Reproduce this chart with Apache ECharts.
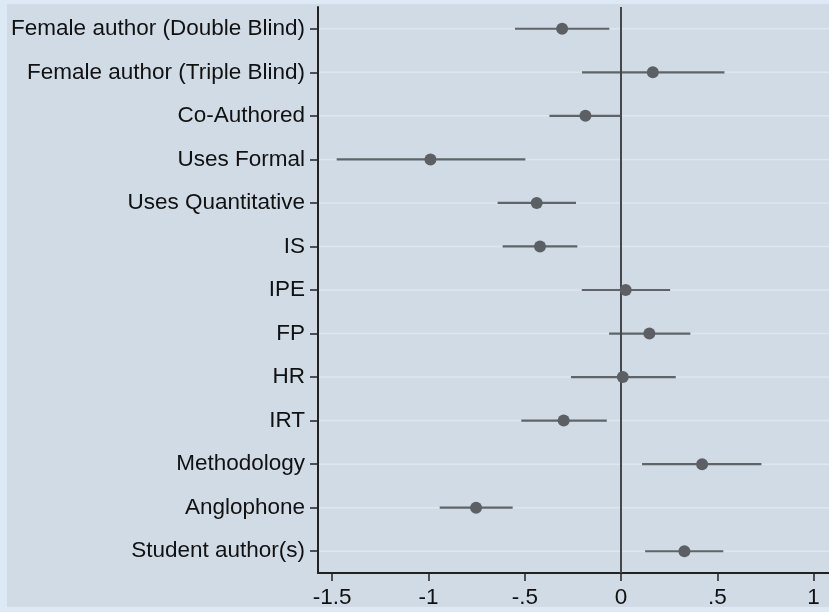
<!DOCTYPE html>
<html><head><meta charset="utf-8">
<script src="https://cdn.jsdelivr.net/npm/echarts@6/dist/echarts.min.js"></script>
<style>html,body{margin:0;padding:0;background:#dde9f5;}#c{width:829px;height:612px;}</style>
</head><body><div id="c"></div>
<script>
const categories = ["Female author (Double Blind)","Female author (Triple Blind)","Co-Authored","Uses Formal","Uses Quantitative","IS","IPE","FP","HR","IRT","Methodology","Anglophone","Student author(s)"];
const estimates = [-0.306, 0.165, -0.185, -0.990, -0.438, -0.421, 0.024, 0.147, 0.009, -0.298, 0.421, -0.753, 0.329];
const lower = [-0.551, -0.203, -0.372, -1.477, -0.641, -0.615, -0.204, -0.062, -0.260, -0.518, 0.109, -0.942, 0.125];
const upper = [-0.061, 0.537, 0.000, -0.497, -0.234, -0.227, 0.255, 0.360, 0.284, -0.074, 0.729, -0.563, 0.531];
const tickValues = [-1.5, -1, -0.5, 0, 0.5, 1];
const tickLabels = ["-1.5", "-1", "-.5", "0", ".5", "1"];

const X_MIN = -1.574, X_MAX = 1.08;
const chart = echarts.init(document.getElementById('c'), null, {renderer: 'canvas'});
const font = '"Liberation Sans", Arial, Helvetica, sans-serif';
chart.setOption({
  backgroundColor: '#dde9f5',
  animation: false,
  graphic: [{type: 'rect', z: -10, silent: true, shape: {x: 7, y: 4, width: 830, height: 603}, style: {fill: '#d0dbe6'}}],
  grid: {left: 318, right: 0, top: 7, bottom: 39, containLabel: false},
  xAxis: {
    type: 'value', min: X_MIN, max: X_MAX,
    axisLine: {show: true, onZero: false, lineStyle: {color: '#222', width: 2}},
    axisTick: {show: true, length: 8, customValues: tickValues, lineStyle: {color: '#222', width: 1.5}},
    axisLabel: {customValues: tickValues, margin: 13, fontSize: 22.5, color: '#111', fontFamily: font,
      formatter: v => { const i = tickValues.findIndex(t => Math.abs(t - v) < 1e-9); return i >= 0 ? tickLabels[i] : ''; }},
    splitLine: {show: false}
  },
  yAxis: {
    type: 'category', data: categories, inverse: true, boundaryGap: true,
    axisLine: {show: true, onZero: false, lineStyle: {color: '#222', width: 2}},
    axisTick: {show: true, alignWithLabel: true, length: 8, lineStyle: {color: '#222', width: 1.5}},
    axisLabel: {fontSize: 22.5, color: '#111', fontFamily: font, margin: 13},
    splitLine: {show: false}
  },
  series: [
    {
      type: 'custom', z: 1,
      dimensions: ['lo', 'hi', 'cat'],
      data: categories.map((c, i) => [X_MIN, X_MAX, i]),
      encode: {x: ['lo', 'hi'], y: 'cat'},
      renderItem: (params, api) => {
        const i = api.value(2);
        const l = api.coord([api.value(0), i]);
        const r = api.coord([api.value(1), i]);
        return {type: 'line', shape: {x1: l[0] + 1, y1: l[1], x2: r[0], y2: r[1]}, style: {stroke: '#dee7f0', lineWidth: 1.5}};
      }
    },
    {
      type: 'custom', z: 2,
      dimensions: ['lo', 'hi', 'cat'],
      data: categories.map((c, i) => [lower[i], upper[i], i]),
      encode: {x: ['lo', 'hi'], y: 'cat'},
      renderItem: (params, api) => {
        const i = api.value(2);
        const lo = api.coord([api.value(0), i]);
        const hi = api.coord([api.value(1), i]);
        return {type: 'line', shape: {x1: lo[0], y1: lo[1], x2: hi[0], y2: hi[1]}, style: {stroke: '#5f6469', lineWidth: 2.2}};
      }
    },
    {
      type: 'scatter', z: 3,
      data: categories.map((c, i) => [estimates[i], i]),
      symbol: 'circle', symbolSize: 12,
      itemStyle: {color: '#5c6065', opacity: 1},
      markLine: {
        silent: true, symbol: 'none', label: {show: false}, z: 2.5,
        lineStyle: {color: '#44484c', width: 2, type: 'solid', opacity: 1},
        data: [{xAxis: 0}]
      }
    }
  ]
});
</script></body></html>
